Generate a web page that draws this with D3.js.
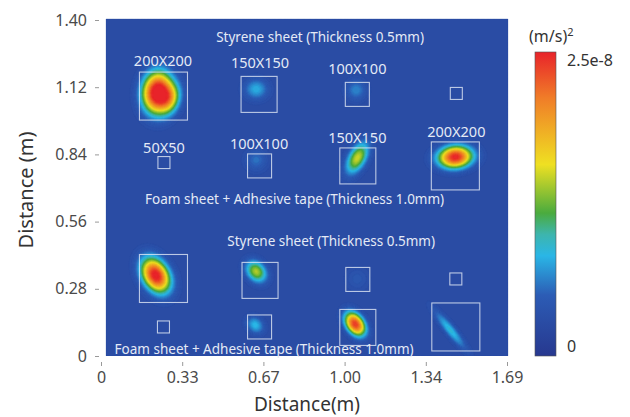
<!DOCTYPE html>
<html>
<head>
<meta charset="utf-8">
<script src="https://cdn.jsdelivr.net/npm/d3@7"></script>
<style>
  body { margin: 0; background: #fff; }
  svg text { font-family: "Noto Sans", "DejaVu Sans", sans-serif; }
</style>
</head>
<body>
<svg id="chart" width="630" height="417"></svg>
<script>
// tick values / labels
const xTicks = [0, 0.338, 0.676, 1.014, 1.352, 1.69];
const xTickLabels = ["0", "0.33", "0.67", "1.00", "1.34", "1.69"];
const yTicks = [0, 0.28, 0.56, 0.84, 1.12, 1.40];
const yTickLabels = ["0", "0.28", "0.56", "0.84", "1.12", "1.40"];

// hot spots read from the map (m), peak as fraction of 2.5e-8
// a = spread along angle, b = spread across, q = flatness
const spots = [
  {x: 0.236, y: 1.097, peak: 1.0, a: 0.062, b: 0.045, angle: 85, q: 1.1},
  {x: 0.292, y: 1.070, peak: 0.32, a: 0.045, b: 0.028, angle: 75, q: 1.0},
  {x: 0.646, y: 1.112, peak: 0.22, a: 0.034, b: 0.030, angle: 0, q: 1.0},
  {x: 1.062, y: 1.108, peak: 0.16, a: 0.030, b: 0.030, angle: 0, q: 1.0},
  {x: 0.646, y: 0.817, peak: 0.13, a: 0.032, b: 0.032, angle: 0, q: 1.0},
  {x: 1.067, y: 0.825, peak: 0.50, a: 0.048, b: 0.025, angle: 62, q: 1.0},
  {x: 1.475, y: 0.829, peak: 0.90, a: 0.050, b: 0.032, angle: 5, q: 1.05},
  {x: 0.228, y: 0.336, peak: 0.93, a: 0.054, b: 0.037, angle: -60, q: 1.05},
  {x: 0.646, y: 0.352, peak: 0.47, a: 0.034, b: 0.026, angle: -50, q: 1.0},
  {x: 1.067, y: 0.321, peak: 0.07, a: 0.035, b: 0.035, angle: 0, q: 1.0},
  {x: 0.642, y: 0.129, peak: 0.24, a: 0.027, b: 0.022, angle: -45, q: 1.0},
  {x: 1.058, y: 0.133, peak: 0.86, a: 0.038, b: 0.025, angle: -55, q: 1.05},
  {x: 1.454, y: 0.108, peak: 0.25, a: 0.068, b: 0.015, angle: -51, q: 1.0}
];
const baseLevel = 0.1;

// specimen squares: centre (m), side (mm)
const squares = [
  {x: 0.260, y: 1.083, size: 200}, {x: 0.658, y: 1.090, size: 150},
  {x: 1.067, y: 1.090, size: 100}, {x: 1.479, y: 1.094, size: 50},
  {x: 0.262, y: 0.806, size: 50},  {x: 0.660, y: 0.792, size: 100},
  {x: 1.069, y: 0.792, size: 150}, {x: 1.475, y: 0.792, size: 200},
  {x: 0.260, y: 0.323, size: 200}, {x: 0.662, y: 0.315, size: 150},
  {x: 1.069, y: 0.319, size: 100}, {x: 1.477, y: 0.321, size: 50},
  {x: 0.260, y: 0.121, size: 50},  {x: 0.660, y: 0.121, size: 100},
  {x: 1.069, y: 0.119, size: 150}, {x: 1.477, y: 0.121, size: 200}
];

// annotations (m, baseline)
const notes = [
  {text: "Styrene sheet (Thickness 0.5mm)", x: 0.912, y: 1.308},
  {text: "200X200", x: 0.258, y: 1.208},
  {text: "150X150", x: 0.662, y: 1.200},
  {text: "100X100", x: 1.067, y: 1.175},
  {text: "50X50", x: 0.262, y: 0.846},
  {text: "100X100", x: 0.658, y: 0.862},
  {text: "150X150", x: 1.067, y: 0.887},
  {text: "200X200", x: 1.479, y: 0.912},
  {text: "Foam sheet + Adhesive tape (Thickness 1.0mm)", x: 0.806, y: 0.633},
  {text: "Styrene sheet (Thickness 0.5mm)", x: 0.958, y: 0.458},
  {text: "Foam sheet + Adhesive tape (Thickness 1.0mm)", x: 0.679, y: 0.008}
];

const colorStops = [0, 0.2, 0.33, 0.4, 0.47, 0.63, 0.85, 1];
const colorRange = ["#27388f", "#2c5cb5", "#2ab6e6", "#3db5ad", "#4aab3e", "#efe022", "#f07c28", "#e8232a"];

const svg = d3.select("#chart");
const x = d3.scaleLinear().domain([0, 1.69]).range([101, 507]);
const y = d3.scaleLinear().domain([0, 1.4]).range([356, 20]);
const color = d3.scaleLinear().domain(colorStops).range(colorRange).clamp(true);

// field grid
const gx0 = 0.02, gx1 = 1.695, gy0 = 0, gy1 = 1.405, step = 0.005;
const nx = Math.round((gx1 - gx0) / step), ny = Math.round((gy1 - gy0) / step);
const values = new Float64Array(nx * ny);
for (let j = 0; j < ny; j++) {
  const py = gy1 - (j + 0.5) * step;
  for (let i = 0; i < nx; i++) {
    const px = gx0 + (i + 0.5) * step;
    let v = baseLevel;
    spots.forEach(s => {
      const t = s.angle * Math.PI / 180;
      const dx = px - s.x, dy = py - s.y;
      const u = (dx * Math.cos(t) + dy * Math.sin(t)) / s.a;
      const w = (-dx * Math.sin(t) + dy * Math.cos(t)) / s.b;
      v += s.peak * Math.exp(-0.5 * Math.pow(u * u + w * w, s.q));
    });
    values[j * nx + i] = Math.min(v, 1);
  }
}

const thresholds = d3.range(0, 1.001, 0.02);
const contours = d3.contours().size([nx, ny]).thresholds(thresholds)(values);
const proj = d3.geoTransform({
  point: function(px, py) { this.stream.point(x(gx0 + px * step), y(gy1 - py * step)); }
});
const path = d3.geoPath(proj);

svg.append("clipPath").attr("id", "panel")
  .append("rect").attr("x", x(gx0)).attr("y", y(gy1))
  .attr("width", x(gx1) - x(gx0)).attr("height", y(gy0) - y(gy1));

const map = svg.append("g").attr("clip-path", "url(#panel)");
map.append("rect").attr("x", x(gx0)).attr("y", y(gy1))
  .attr("width", x(gx1) - x(gx0)).attr("height", y(gy0) - y(gy1))
  .attr("fill", color(baseLevel));
map.selectAll("path.lvl").data(contours.filter(c => c.value >= baseLevel)).join("path")
  .attr("class", "lvl")
  .attr("d", path)
  .attr("fill", d => color(d.value + 0.01))
  .attr("stroke", d => color(d.value + 0.01))
  .attr("stroke-width", 0.3);

// squares
map.selectAll("rect.sq").data(squares).join("rect")
  .attr("class", "sq")
  .attr("x", d => x(d.x - d.size / 2000))
  .attr("y", d => y(d.y + d.size / 2000))
  .attr("width", d => x(d.size / 1000) - x(0))
  .attr("height", d => y(0) - y(d.size / 1000))
  .attr("fill", "none")
  .attr("stroke", "rgba(225,232,245,0.8)")
  .attr("stroke-width", 1.1);

svg.selectAll("text.note").data(notes).join("text")
  .attr("class", "note")
  .attr("x", d => x(d.x)).attr("y", d => y(d.y))
  .attr("text-anchor", "middle")
  .attr("font-size", d => d.text.length < 10 ? 14.5 : 13.5)
  .attr("fill", "#e4eaf6")
  .text(d => d.text);

// axes
const xAxis = svg.append("g").attr("transform", "translate(0,362)")
  .call(d3.axisBottom(x).tickValues(xTicks).tickSize(4).tickPadding(6)
    .tickFormat((d, i) => xTickLabels[i]));
const yAxis = svg.append("g").attr("transform", "translate(99,0)")
  .call(d3.axisLeft(y).tickValues(yTicks).tickSize(4).tickPadding(8)
    .tickFormat((d, i) => yTickLabels[i]));
[xAxis, yAxis].forEach(g => {
  g.select(".domain").remove();
  g.selectAll(".tick line").attr("stroke", "#999");
  g.selectAll(".tick text").attr("fill", "#4a4a4a").attr("font-size", 16)
    .attr("font-family", "'Noto Sans', sans-serif");
});

svg.append("text").attr("x", 307).attr("y", 411).attr("text-anchor", "middle")
  .attr("font-size", 19).attr("fill", "#333").text("Distance(m)");
svg.append("text").attr("transform", "translate(33,190) rotate(-90)")
  .attr("text-anchor", "middle").attr("font-size", 20).attr("fill", "#333")
  .text("Distance (m)");

// colour bar
const cb = d3.scaleLinear().domain([0, 1]).range([356, 52]);
const grad = svg.append("defs").append("linearGradient").attr("id", "cbar")
  .attr("x1", 0).attr("y1", 1).attr("x2", 0).attr("y2", 0);
grad.selectAll("stop").data(colorStops).join("stop")
  .attr("offset", d => d).attr("stop-color", d => color(d));
svg.append("rect").attr("x", 535).attr("y", cb(1)).attr("width", 21)
  .attr("height", cb(0) - cb(1)).attr("fill", "url(#cbar)")
  .attr("stroke", "#555").attr("stroke-width", 0.6);
const unit = svg.append("text").attr("x", 529).attr("y", 42).attr("font-size", 16).attr("fill", "#333");
unit.append("tspan").text("(m/s)");
unit.append("tspan").attr("dy", -6).attr("font-size", 11).text("2");
svg.append("text").attr("x", 567).attr("y", 66).attr("font-size", 16).attr("fill", "#333").text("2.5e-8");
svg.append("text").attr("x", 567).attr("y", 352).attr("font-size", 16).attr("fill", "#333").text("0");
</script>
</body>
</html>
